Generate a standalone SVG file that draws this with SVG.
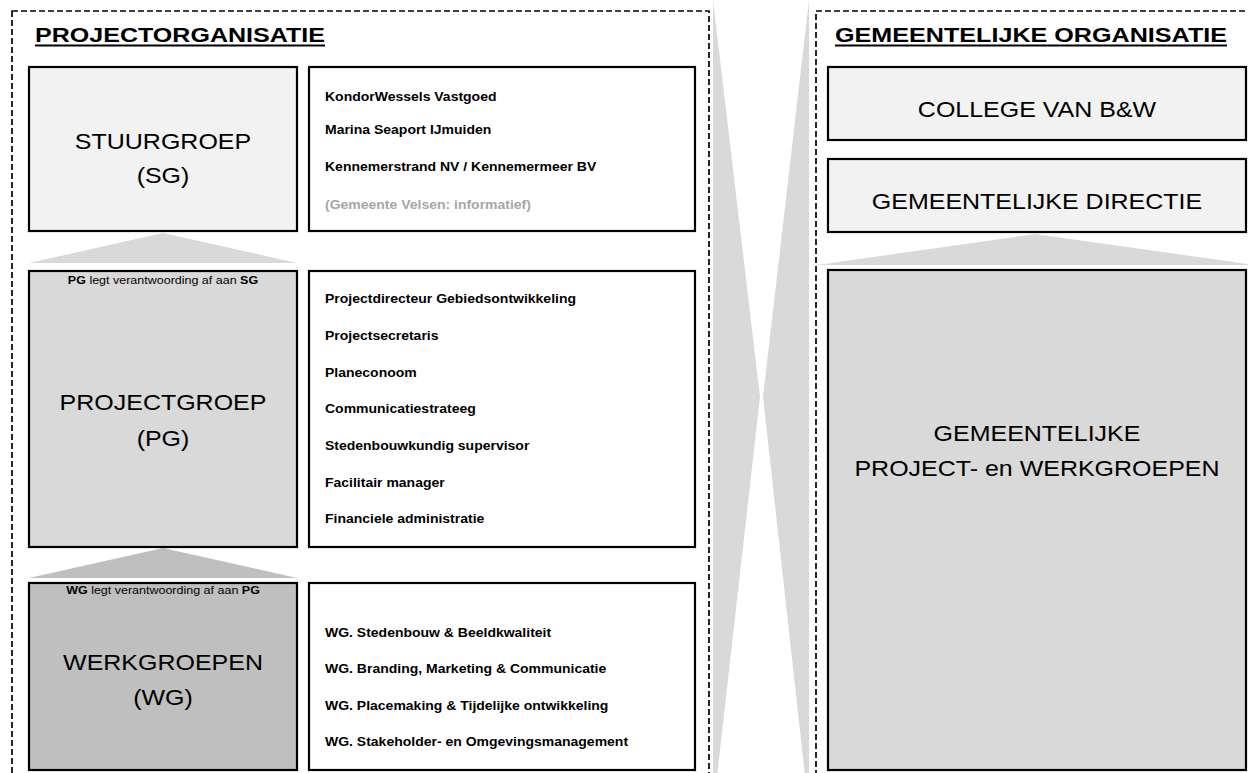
<svg xmlns="http://www.w3.org/2000/svg" width="1248" height="773" viewBox="0 0 1248 773">
<style>
text{font-family:"Liberation Sans",Arial,sans-serif;fill:#000}
.t{font-size:24px;font-weight:bold}
.big{font-size:25px;text-anchor:middle}
.sm{font-size:12.5px;text-anchor:middle}
.li{font-size:14px;font-weight:bold}
.grey{fill:#A6A6A6}
.frame{fill:none;stroke:#000;stroke-width:1.7;stroke-dasharray:6 3}
.box{stroke:#000;stroke-width:2.2}
.ul{stroke:#000;stroke-width:2}
</style>
<rect width="1248" height="773" fill="#fff"/>
<g id="connectors">
<polygon points="713,0 760,397 713,812" fill="#D9D9D9"/>
<polygon points="809,0 763,397 809,812" fill="#D9D9D9"/>
<polygon points="163,233 297,263 29,263" fill="#D9D9D9"/>
<polygon points="163,548 297,578 29,578" fill="#BFBFBF"/>
<polygon points="1035,234 1255,265 817,265" fill="#D9D9D9"/>
</g>
<g id="frame-project">
<rect class="frame" x="12" y="11" width="697" height="800"/>
<text class="t" transform="translate(35,41.5) scale(1,0.88)" textLength="290" lengthAdjust="spacingAndGlyphs">PROJECTORGANISATIE</text>
<line class="ul" x1="35" y1="45.5" x2="325" y2="45.5"/>
</g>
<g id="frame-gemeente">
<rect class="frame" x="816" y="11" width="460" height="800"/>
<text class="t" transform="translate(835,41.5) scale(1,0.88)" textLength="392" lengthAdjust="spacingAndGlyphs">GEMEENTELIJKE ORGANISATIE</text>
<line class="ul" x1="835" y1="45.5" x2="1227" y2="45.5"/>
</g>
<g id="sg">
<rect class="box" x="29" y="67" width="268" height="164" fill="#F2F2F2"/>
<text class="big" transform="translate(163,149) scale(1,0.88)">STUURGROEP</text>
<text class="big" transform="translate(163,183) scale(1,0.88)">(SG)</text>
</g>
<g id="sg-list">
<rect class="box" x="309" y="67" width="386" height="164" fill="#fff"/>
<text class="li" transform="translate(325,101) scale(1,0.88)">KondorWessels Vastgoed</text>
<text class="li" transform="translate(325,134) scale(1,0.88)">Marina Seaport IJmuiden</text>
<text class="li" transform="translate(325,171) scale(1,0.88)">Kennemerstrand NV / Kennemermeer BV</text>
<text class="li grey" transform="translate(325,209) scale(1,0.88)">(Gemeente Velsen: informatief)</text>
</g>
<g id="pg">
<rect class="box" x="29" y="271" width="268" height="276" fill="#D9D9D9"/>
<text class="sm" transform="translate(163,284) scale(1,0.88)"><tspan font-weight="bold">PG</tspan> legt verantwoording af aan <tspan font-weight="bold">SG</tspan></text>
<text class="big" transform="translate(163,410) scale(1,0.88)">PROJECTGROEP</text>
<text class="big" transform="translate(163,446) scale(1,0.88)">(PG)</text>
</g>
<g id="pg-list">
<rect class="box" x="309" y="271" width="386" height="276" fill="#fff"/>
<text class="li" transform="translate(325,303) scale(1,0.88)">Projectdirecteur Gebiedsontwikkeling</text>
<text class="li" transform="translate(325,340) scale(1,0.88)">Projectsecretaris</text>
<text class="li" transform="translate(325,377) scale(1,0.88)">Planeconoom</text>
<text class="li" transform="translate(325,413) scale(1,0.88)">Communicatiestrateeg</text>
<text class="li" transform="translate(325,450) scale(1,0.88)">Stedenbouwkundig supervisor</text>
<text class="li" transform="translate(325,487) scale(1,0.88)">Facilitair manager</text>
<text class="li" transform="translate(325,523) scale(1,0.88)">Financiele administratie</text>
</g>
<g id="wg">
<rect class="box" x="29" y="583" width="268" height="187" fill="#BFBFBF"/>
<text class="sm" transform="translate(163,594) scale(1,0.88)"><tspan font-weight="bold">WG</tspan> legt verantwoording af aan <tspan font-weight="bold">PG</tspan></text>
<text class="big" transform="translate(163,670) scale(1,0.88)">WERKGROEPEN</text>
<text class="big" transform="translate(163,705) scale(1,0.88)">(WG)</text>
</g>
<g id="wg-list">
<rect class="box" x="309" y="583" width="386" height="187" fill="#fff"/>
<text class="li" transform="translate(325,637) scale(1,0.88)">WG. Stedenbouw &amp; Beeldkwaliteit</text>
<text class="li" transform="translate(325,673) scale(1,0.88)">WG. Branding, Marketing &amp; Communicatie</text>
<text class="li" transform="translate(325,710) scale(1,0.88)">WG. Placemaking &amp; Tijdelijke ontwikkeling</text>
<text class="li" transform="translate(325,746) scale(1,0.88)">WG. Stakeholder- en Omgevingsmanagement</text>
</g>
<g id="college">
<rect class="box" x="828" y="67" width="418" height="73" fill="#F2F2F2"/>
<text class="big" transform="translate(1037,117) scale(1,0.88)">COLLEGE VAN B&amp;W</text>
</g>
<g id="directie">
<rect class="box" x="828" y="159" width="418" height="73" fill="#F2F2F2"/>
<text class="big" transform="translate(1037,209) scale(1,0.88)">GEMEENTELIJKE DIRECTIE</text>
</g>
<g id="werkgroepen-gemeente">
<rect class="box" x="828" y="270" width="418" height="500" fill="#D9D9D9"/>
<text class="big" transform="translate(1037,441) scale(1,0.88)">GEMEENTELIJKE</text>
<text class="big" transform="translate(1037,476) scale(1,0.88)">PROJECT- en WERKGROEPEN</text>
</g>
</svg>
